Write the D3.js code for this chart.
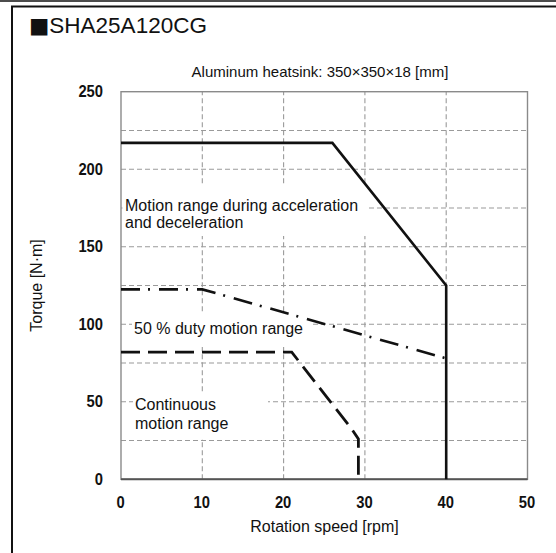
<!DOCTYPE html>
<html><head><meta charset="utf-8">
<script src="https://cdn.jsdelivr.net/npm/d3@7"></script>
<style>
html,body{margin:0;padding:0;background:#fff;}
svg{display:block;}
text{font-family:"Liberation Sans",Arial,sans-serif;fill:#111;}
</style></head>
<body>
<svg id="chart" width="556" height="553"></svg>
<script>
// ---- data ----
const xTicks = [0, 10, 20, 30, 40, 50];
const yTicks = [0, 50, 100, 150, 200, 250];
const yGrid = [25, 50, 75, 100, 125, 150, 175, 200, 225];
const xGrid = [10, 20, 30, 40];
// Motion range during acceleration and deceleration (solid)
const accelSpeed = [0, 26, 40, 40];
const accelTorque = [217, 217, 125, 0];
// 50 % duty motion range (dash-dot)
const dutySpeed = [0, 10, 40];
const dutyTorque = [122.5, 122.5, 78];
// Continuous motion range (dashed)
const contSpeed = [0, 21, 28.3, 29.2, 29.2];
const contTorque = [82, 82, 33, 26, 0];

const title = "SHA25A120CG";
const subtitle = "Aluminum heatsink: 350×350×18 [mm]";
const xTitle = "Rotation speed [rpm]";
const yTitle = "Torque [N·m]";

const svg = d3.select("#chart");
const x = d3.scaleLinear().domain([0, 50]).range([121, 527.5]);
const y = d3.scaleLinear().domain([0, 250]).range([479.3, 91.7]);

// outer frame
svg.append("line").attr("x1",0).attr("x2",556).attr("y1",1).attr("y2",1).attr("stroke","#111").attr("stroke-width",1.6);
svg.append("path").attr("d","M12,560 L12,6.5 L560,6.5").attr("fill","none").attr("stroke","#111").attr("stroke-width",2);

// title
const t = svg.append("text").attr("x",29).attr("y",33).attr("font-size",22.5);
t.append("tspan").attr("font-family","DejaVu Sans").attr("font-size",21.5).text("■");
t.append("tspan").text(title);

svg.append("text").attr("x",320).attr("y",77).attr("font-size",15).attr("text-anchor","middle").text(subtitle);

// grid
const g = svg.append("g");
g.selectAll(".hg").data(yGrid).join("line")
  .attr("x1",x(0)).attr("x2",x(50)).attr("y1",d=>y(d)).attr("y2",d=>y(d))
  .attr("stroke","#9a9a9a").attr("stroke-width",1.1).attr("stroke-dasharray","5,3");
g.selectAll(".vg").data(xGrid).join("line")
  .attr("y1",y(0)).attr("y2",y(250)).attr("x1",d=>x(d)).attr("x2",d=>x(d))
  .attr("stroke","#9a9a9a").attr("stroke-width",1.1).attr("stroke-dasharray","5,3");

// label masks
const masks = [[122.5,186,368,236],[132,314,310,347],[133,392,268,439]];
svg.selectAll(".mask").data(masks).join("rect")
  .attr("x",d=>d[0]).attr("y",d=>d[1]).attr("width",d=>d[2]-d[0]).attr("height",d=>d[3]-d[1])
  .attr("fill","#fff");

// plot border
svg.append("rect").attr("x",x(0)).attr("y",y(250)).attr("width",x(50)-x(0)).attr("height",y(0)-y(250))
  .attr("fill","none").attr("stroke","#8a8a8a").attr("stroke-width",1.4);
svg.append("line").attr("x1",x(0)).attr("x2",x(50)).attr("y1",y(0)).attr("y2",y(0)).attr("stroke","#555").attr("stroke-width",2);

// axes tick labels
function styleTicks(sel){
  sel.selectAll("text")
    .attr("font-size",16).attr("font-weight","bold")
    .attr("font-family","Liberation Sans, Arial, sans-serif").attr("fill","#222")
    .attr("lengthAdjust","spacingAndGlyphs")
    .attr("textLength",function(){ return this.textContent.length * 8.2; });
}
const xAxis = d3.axisBottom(x).tickValues(xTicks).tickSize(0).tickPadding(17);
const xa = svg.append("g").attr("transform",`translate(0,${y(0)})`).call(xAxis);
xa.select(".domain").remove();
styleTicks(xa);
xa.selectAll("text").attr("dx",-1);

const yAxis = d3.axisLeft(y).tickValues(yTicks).tickSize(0).tickPadding(18);
const ya = svg.append("g").attr("transform",`translate(${x(0)},0)`).call(yAxis);
ya.select(".domain").remove();
styleTicks(ya);

svg.append("text").attr("x",324.5).attr("y",532).attr("font-size",16).attr("text-anchor","middle").text(xTitle);
svg.append("text").attr("transform","translate(42,285.5) rotate(-90)").attr("font-size",16).attr("text-anchor","middle").text(yTitle);

// curves
const line = d3.line().x(d=>x(d[0])).y(d=>y(d[1]));
const zip = (a,b)=>a.map((v,i)=>[v,b[i]]);
svg.append("path").attr("d",line(zip(accelSpeed,accelTorque))).attr("fill","none")
  .attr("stroke","#111").attr("stroke-width",2.6).attr("stroke-linejoin","miter");
svg.append("path").attr("d",line(zip(dutySpeed,dutyTorque))).attr("fill","none")
  .attr("stroke","#111").attr("stroke-width",2.6).attr("stroke-dasharray","19,8,2,9");
svg.append("path").attr("d",line(zip(contSpeed,contTorque))).attr("fill","none")
  .attr("stroke","#111").attr("stroke-width",2.8).attr("stroke-dasharray","19,8");

// in-plot labels
svg.append("text").attr("x",125).attr("y",211).attr("font-size",16).text("Motion range during acceleration");
svg.append("text").attr("x",125).attr("y",227.5).attr("font-size",16).text("and deceleration");
svg.append("text").attr("x",134).attr("y",334).attr("font-size",16).text("50 % duty motion range");
svg.append("text").attr("x",135).attr("y",410).attr("font-size",16).text("Continuous");
svg.append("text").attr("x",135).attr("y",429).attr("font-size",16).text("motion range");
</script>
</body></html>
